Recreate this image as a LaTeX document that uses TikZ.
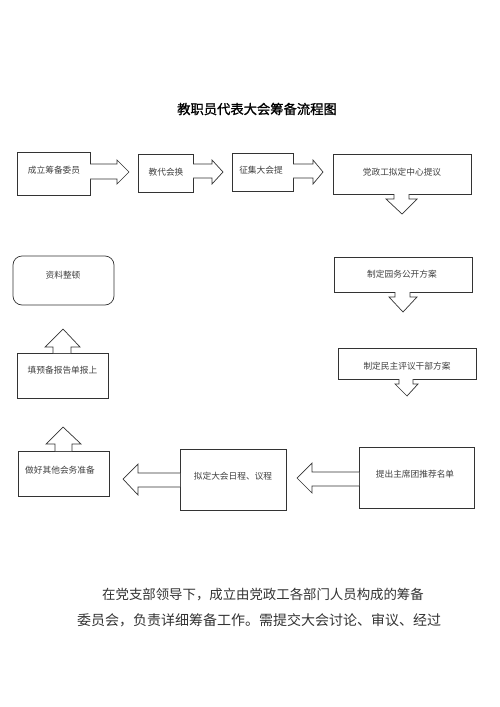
\documentclass[tikz,border=0pt]{standalone}
\usepackage{fontspec}
\newfontfamily\cjk{Noto Sans CJK SC}
\newfontfamily\cjkbold{Noto Sans CJK SC}[FakeBold=1.2]
\begin{document}
\begin{tikzpicture}[x=1pt,y=-1pt,
  box/.style={draw=black!80, line width=0.7pt, inner sep=0pt, fill=white},
  boxtext/.style={font=\cjk\fontsize{8.7}{10}\selectfont, text=black!75, inner sep=0pt},
  blockarrow/.style={draw=black!80, line width=0.7pt, fill=white, line join=miter},
  bodytext/.style={text=black!80, inner sep=0pt, anchor=west}]
\useasboundingbox (0,0) rectangle (500,707);
\fill[white] (0,0) rectangle (500,707);

% title
\node[font=\cjkbold\fontsize{13.3}{16}\selectfont, inner sep=0pt] (title) at (257,109) {教职员代表大会筹备流程图};

% boxes
\node[box, minimum width=73pt, minimum height=43pt] (b1) at (53.5,173.5) {};
\node[box, minimum width=55pt, minimum height=38pt] (b2) at (165.5,173) {};
\node[box, minimum width=61pt, minimum height=38pt] (b3) at (262.5,172) {};
\node[box, minimum width=138pt, minimum height=40pt] (b4) at (402,174) {};
\node[box, minimum width=138pt, minimum height=35pt] (b5) at (403,274.5) {};
\node[box, minimum width=138pt, minimum height=31pt] (b6) at (407,363.5) {};
\node[box, minimum width=115pt, minimum height=61pt] (b7) at (416.5,477.5) {};
\node[box, minimum width=106pt, minimum height=61pt] (b8) at (233,479.5) {};
\node[box, minimum width=91pt, minimum height=45pt] (b9) at (63.5,473.5) {};
\node[box, minimum width=91pt, minimum height=45pt] (b10) at (62.5,375.5) {};
\node[box, rounded corners=9pt, minimum width=101pt, minimum height=49pt] (b11) at (63.5,280.5) {};

% box texts
\node[boxtext] (t1) at (54,170) {成立筹备委员};
\node[boxtext] (t2) at (166,172) {教代会换};
\node[boxtext] (t3) at (261,170) {征集大会提};
\node[boxtext] (t4) at (402,172) {党政工拟定中心提议};
\node[boxtext] (t5) at (402,274) {制定园务公开方案};
\node[boxtext] (t6) at (407,366) {制定民主评议干部方案};
\node[boxtext] (t7) at (415,474) {提出主席团推荐名单};
\node[boxtext] (t8) at (233,476) {拟定大会日程、议程};
\node[boxtext] (t9) at (60,470) {做好其他会务准备};
\node[boxtext] (t10) at (62.5,370) {填预备报告单报上};
\node[boxtext] (t11) at (63,275) {资料整顿};

% right block arrows
\draw[blockarrow] (90,164) -- (117,164) -- (117,160) -- (129,172) -- (117,184) -- (117,179) -- (90,179);
\draw[blockarrow] (193,164) -- (212,164) -- (212,160) -- (223,172) -- (212,184) -- (212,178) -- (193,178);
\draw[blockarrow] (293,164) -- (313,164) -- (313,160) -- (323,172) -- (313,184) -- (313,178) -- (293,178);

% down block arrows
\draw[blockarrow] (394,194) -- (394,199) -- (386,199) -- (402,214) -- (417,199) -- (409,199) -- (409,194);
\draw[blockarrow] (395,292) -- (395,297) -- (389,297) -- (403,312) -- (417,297) -- (410,297) -- (410,292);
\draw[blockarrow] (399,379) -- (399,384) -- (395,384) -- (407,396) -- (418,384) -- (413,384) -- (413,379);

% left block arrows
\draw[blockarrow] (359,472) -- (312,472) -- (312,463) -- (297,478) -- (312,493) -- (312,486) -- (359,486);
\draw[blockarrow] (180,473) -- (138,473) -- (138,464) -- (123,479) -- (138,495) -- (138,487) -- (180,487);

% up block arrows
\draw[blockarrow] (55,451) -- (55,444) -- (46,444) -- (63,427) -- (81,444) -- (72,444) -- (72,451);
\draw[blockarrow] (53,353) -- (53,347) -- (45,347) -- (63,329) -- (80,347) -- (71,347) -- (71,353);

% body text
\node[bodytext, font=\cjk\fontsize{13.4}{16}\selectfont] (p1) at (102,595) {在党支部领导下，成立由党政工各部门人员构成的筹备};
\node[bodytext, font=\cjk\fontsize{14}{16}\selectfont] (p2) at (77,620) {委员会，负责详细筹备工作。需提交大会讨论、审议、经过};
\end{tikzpicture}
\end{document}
